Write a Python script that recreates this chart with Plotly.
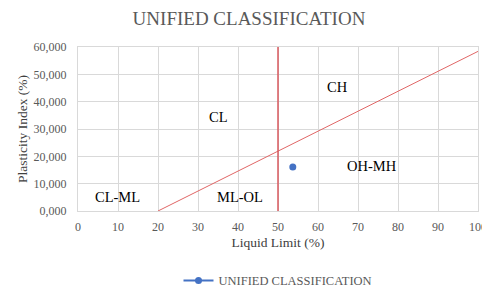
import plotly.graph_objects as go

# Data
sample_ll = [53.7]
sample_pi = [16.1]
a_line_ll = [20, 100]
a_line_pi = [0, 58.4]
b_line_ll = [50, 50]
b_line_pi = [0, 60]
zone_names = ["CL-ML", "ML-OL", "CL", "CH", "OH-MH"]
zone_ll = [9.9, 40.5, 35.0, 64.8, 73.4]
zone_pi = [5.1, 5.1, 34.4, 45.4, 16.5]
y_ticks = [0, 10, 20, 30, 40, 50, 60]
y_tick_text = ["0,000", "10,000", "20,000", "30,000", "40,000", "50,000", "60,000"]
x_ticks = list(range(0, 101, 10))

font = "Liberation Serif"
fig = go.Figure()
fig.add_trace(go.Scatter(x=a_line_ll, y=a_line_pi, mode="lines",
                         line=dict(color="#e06666", width=1), showlegend=False, hoverinfo="skip"))
fig.add_trace(go.Scatter(x=b_line_ll, y=b_line_pi, mode="lines",
                         line=dict(color="#d9585e", width=1.5), showlegend=False, hoverinfo="skip"))
fig.add_trace(go.Scatter(x=sample_ll, y=sample_pi, mode="lines+markers", name="UNIFIED CLASSIFICATION",
                         line=dict(color="#4472C4", width=2), marker=dict(color="#4472C4", size=7)))
for n, x, y in zip(zone_names, zone_ll, zone_pi):
    fig.add_annotation(x=x, y=y, text=n, showarrow=False,
                       font=dict(family=font, size=14.5, color="#000000"))

fig.update_layout(
    width=482, height=279,
    margin=dict(l=70, r=12, t=39, b=76, autoexpand=False),
    paper_bgcolor="white", plot_bgcolor="white",
    title=dict(text="UNIFIED CLASSIFICATION", x=0.5, xanchor="center", yref="container", y=0.985, yanchor="top",
               font=dict(family=font, size=19, color="#595959")),
    legend=dict(orientation="h", x=0.5, xanchor="center", yref="container", y=0.022, yanchor="middle",
                font=dict(family=font, size=12.5, color="#595959")),
    font=dict(family=font),
)
fig.update_xaxes(range=[0, 100], tickvals=x_ticks, showgrid=True, gridcolor="#d9d9d9",
                 showline=True, linecolor="#d9d9d9", mirror=True, zeroline=False, automargin=False,
                 ticklabelstandoff=5, ticklabeloverflow="allow",
                 tickfont=dict(family=font, size=12, color="#595959"),
                 title=dict(text="Liquid Limit (%)", font=dict(family=font, size=13.5, color="#404040"), standoff=4))
fig.update_yaxes(range=[0, 60], tickvals=y_ticks, ticktext=y_tick_text, showgrid=True, gridcolor="#d9d9d9",
                 showline=True, linecolor="#d9d9d9", mirror=True, zeroline=False, automargin=False,
                 ticklabelstandoff=8,
                 tickfont=dict(family=font, size=12, color="#595959"),
                 title=dict(text="Plasticity Index (%)", font=dict(family=font, size=13.5, color="#404040"), standoff=2))
fig.write_html("out.html")
